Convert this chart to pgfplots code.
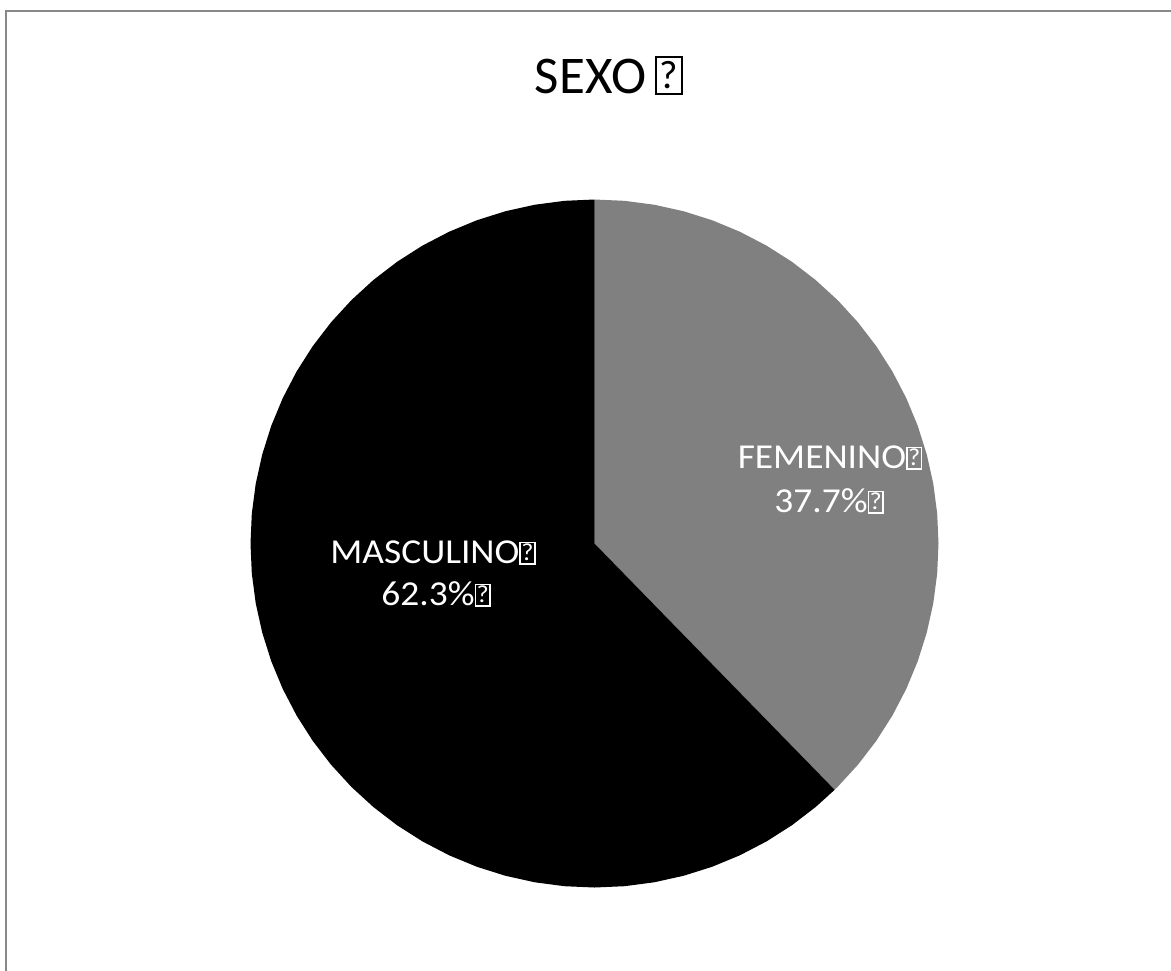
\documentclass[border=0pt]{standalone}
\usepackage{fontspec}
\setmainfont{Carlito}
\usepackage{graphicx}
\usepackage{pgfplots}
\usepgfplotslibrary{polar}
\pgfplotsset{compat=1.18}
\definecolor{framegray}{RGB}{136,136,136}
\definecolor{slicegray}{RGB}{128,128,128}
\newcommand\qbox[3]{{\setlength\fboxsep{0pt}\setlength\fboxrule{0.045em}\fbox{\makebox[#1][c]{\rule[0pt]{0pt}{#2}\raisebox{0.08em}{\scalebox{#3}{?}}}}}}
\begin{document}
\begin{tikzpicture}
\useasboundingbox[fill=white] (0pt,0pt) rectangle (585.5pt,-485pt);
\draw[line width=1.1pt, framegray] (3pt,-486pt) -- (3pt,-5.5pt) -- (586pt,-5.5pt);
\begin{polaraxis}[
  at={(297.25pt,-271.75pt)}, anchor=center,
  width=344pt, height=344pt, scale only axis,
  hide axis, xmin=0, xmax=360, ymin=0, ymax=1,
  clip=false,
]
% FEMENINO 37.7% : from 90 deg clockwise to -45.72 deg
\addplot[draw=none, fill=slicegray] coordinates {
 (0,0) (90,1) (85,1) (80,1) (75,1) (70,1) (65,1) (60,1) (55,1) (50,1) (45,1)
 (40,1) (35,1) (30,1) (25,1) (20,1) (15,1) (10,1) (5,1) (0,1) (-5,1) (-10,1)
 (-15,1) (-20,1) (-25,1) (-30,1) (-35,1) (-40,1) (-45,1) (-45.72,1) (0,0)
} -- cycle;
% MASCULINO 62.3% : from 90 deg counter-clockwise to 314.28 deg
\addplot[draw=none, fill=black] coordinates {
 (0,0) (90,1) (95,1) (100,1) (105,1) (110,1) (115,1) (120,1) (125,1) (130,1)
 (135,1) (140,1) (145,1) (150,1) (155,1) (160,1) (165,1) (170,1) (175,1)
 (180,1) (185,1) (190,1) (195,1) (200,1) (205,1) (210,1) (215,1) (220,1)
 (225,1) (230,1) (235,1) (240,1) (245,1) (250,1) (255,1) (260,1) (265,1)
 (270,1) (275,1) (280,1) (285,1) (290,1) (295,1) (300,1) (305,1) (310,1)
 (314.28,1) (0,0)
} -- cycle;
\end{polaraxis}
% title
\node[anchor=base, inner sep=0pt, font=\fontsize{26.5}{32}\selectfont] at (304.5pt,-46.5pt) {SEXO\,\qbox{0.44em}{0.66em}{0.75}};
% labels
\begin{scope}[every node/.style={anchor=base, inner sep=0pt, text=white, font=\fontsize{17.5}{21}\selectfont}]
\node at (415pt,-234pt) {\scalebox{1.07}[1]{FEMENINO\qbox{0.34em}{0.48em}{0.7}}};
\node at (414.5pt,-256pt) {\scalebox{1.07}[1]{37.7\%\qbox{0.34em}{0.48em}{0.7}}};
\node at (216.5pt,-281.5pt) {\scalebox{1.07}[1]{MASCULINO\qbox{0.34em}{0.48em}{0.7}}};
\node at (218pt,-302.5pt) {\scalebox{1.07}[1]{62.3\%\qbox{0.34em}{0.48em}{0.7}}};
\end{scope}
\end{tikzpicture}
\end{document}
